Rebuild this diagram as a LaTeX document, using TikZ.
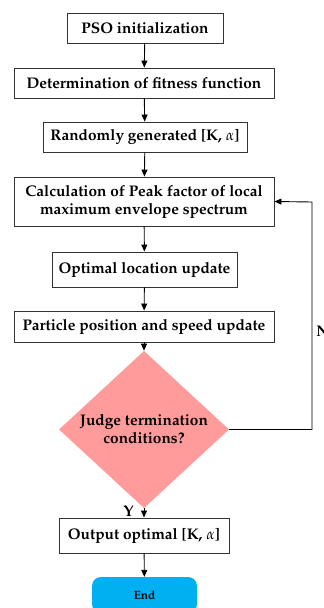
\documentclass[tikz,border=0pt]{standalone}
\usepackage[T1]{fontenc}
\usepackage{mathpazo}
\usetikzlibrary{arrows.meta,shapes.geometric}
\definecolor{decpink}{HTML}{FF9B9B}
\definecolor{endblue}{HTML}{00B0F0}
\tikzset{
  txt/.style={font=\fontsize{15.4}{18}\selectfont\bfseries},
  box/.style={draw=black!80, line width=0.9pt, fill=white, inner sep=0pt, txt, align=center},
  flow/.style={-{Triangle[length=7pt,width=6pt]}, line width=0.9pt, black},
  lbl/.style={txt, inner sep=0pt}
}
\begin{document}
\begin{tikzpicture}[x=1pt,y=-1pt]
\useasboundingbox (0,0) rectangle (324,608);
\node[box, minimum width=156pt, minimum height=30pt] (init) at (145,28) {PSO initialization};
\node[box, minimum width=260pt, minimum height=30pt] (fit) at (144,83) {Determination of fitness function};
\node[box, minimum width=204pt, minimum height=30pt] (rand) at (145,137) {Randomly generated [K, $\alpha$]};
\node[box, minimum width=260pt, minimum height=49pt] (calc) at (144,201.5) {Calculation of Peak factor of local\\maximum envelope spectrum};
\node[box, minimum width=185pt, minimum height=35pt] (opt) at (144.5,269.5) {Optimal location update};
\node[box, minimum width=260pt, minimum height=31pt] (part) at (144,326.5) {Particle position and speed update};
\node[diamond, fill=decpink, minimum width=170pt, minimum height=127pt, inner sep=0pt,
  txt, align=center] (judge) at (144,429.5) {Judge termination\\conditions?};
\node[box, minimum width=170pt, minimum height=35pt] (out) at (144,535.5) {Output optimal [K, $\alpha$]};
\node[fill=endblue, rounded corners=9pt, minimum width=105pt, minimum height=36pt, inner sep=0pt,
  font=\fontsize{12}{14}\selectfont\bfseries] (end) at (144.5,595) {End};
\coordinate (loopA) at (312,429.5);
\coordinate (loopB) at (312,202);
\draw[flow] (init) -- (fit);
\draw[flow] (fit) -- (rand);
\draw[flow] (rand) -- (calc);
\draw[flow] (calc) -- (opt);
\draw[flow] (opt) -- (part);
\draw[flow] (part) -- (judge);
\draw[flow] (judge) -- node[lbl, left=10pt, pos=0.35] {Y} (out);
\draw[flow] (out) -- (end);
\draw[flow] (judge.east) -- (loopA) -- node[lbl, right=4pt, pos=0.43] {N} (loopB) -- (calc.east);
\end{tikzpicture}
\end{document}
